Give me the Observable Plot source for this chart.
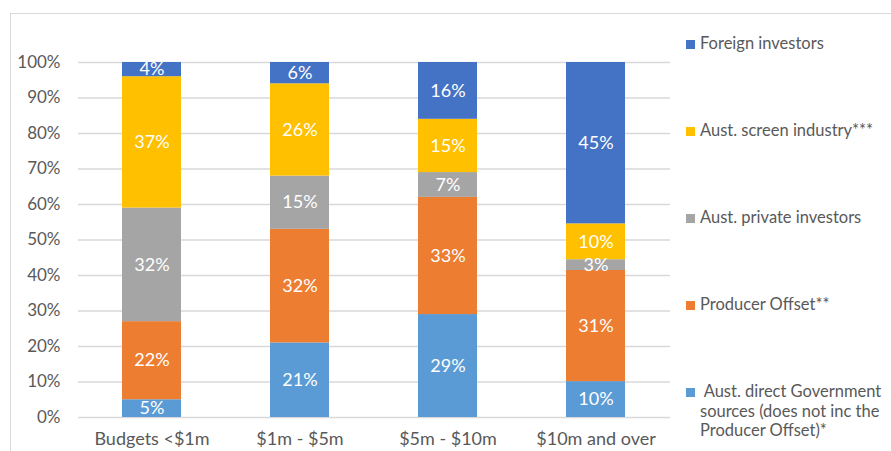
<!DOCTYPE html>
<html>
<head>
<meta charset="utf-8">
<script src="https://cdn.jsdelivr.net/npm/d3@7"></script>
<script src="https://cdn.jsdelivr.net/npm/@observablehq/plot@0.6"></script>
<style>
  html, body { margin: 0; padding: 0; background: #fff; }
  #wrap { position: relative; width: 891px; height: 451px; overflow: hidden; font-family: Lato, "Open Sans", sans-serif; }
  #frame { position: absolute; left: 10px; top: 13px; width: 900px; height: 460px; border: 1px solid #d9d9d9; box-sizing: border-box; }
  #chart { position: absolute; left: 0; top: 0; }
  .leg { position: absolute; left: 686px; color: #595959; font-size: 16.5px; line-height: 19.5px; }
  .leg .sw { position: absolute; left: 0; top: 6px; width: 9px; height: 9px; }
  .leg .lb { position: absolute; left: 14px; top: 0; white-space: nowrap; }
</style>
</head>
<body>
<div id="wrap">
  <div id="frame"></div>
  <div id="chart"></div>
  <div id="legend"></div>
</div>
<script>
const categories = ["Budgets <$1m", "$1m - $5m", "$5m - $10m", "$10m and over"];
const seriesNames = [
  "Aust. direct Government sources (does not inc the Producer Offset)*",
  "Producer Offset**",
  "Aust. private investors",
  "Aust. screen industry***",
  "Foreign investors"
];
const govtDirect = [5, 21, 29, 10];
const producerOffset = [22, 32, 33, 31];
const privateInvestors = [32, 15, 7, 3];
const screenIndustry = [37, 26, 15, 10];
const foreignInvestors = [4, 6, 16, 45];
const seriesColors = ["#5B9BD5", "#ED7D31", "#A5A5A5", "#FFC000", "#4472C4"];
const yTicks = [0, 0.1, 0.2, 0.3, 0.4, 0.5, 0.6, 0.7, 0.8, 0.9, 1];

const seriesValues = [govtDirect, producerOffset, privateInvestors, screenIndustry, foreignInvestors];
const data = [];
seriesNames.forEach((s, i) => {
  categories.forEach((c, j) => {
    data.push({category: c, series: s, value: seriesValues[i][j]});
  });
});

const stackOpts = {x: "category", y: "value", z: "series", order: seriesNames, offset: "normalize"};

const chart = Plot.plot({
  width: 891,
  height: 451,
  marginLeft: 78,
  marginRight: 221,
  marginTop: 62,
  marginBottom: 34,
  style: {fontFamily: "Lato, 'Open Sans', sans-serif", fontSize: "17px", color: "#595959", background: "transparent"},
  x: {domain: categories, paddingInner: 0.6, paddingOuter: 0.3, label: null, tickSize: 0, tickPadding: 15},
  y: {domain: [0, 1], ticks: yTicks, tickFormat: d => Math.round(d * 100) + "%", label: null, tickSize: 0, tickPadding: 18},
  color: {domain: seriesNames, range: seriesColors},
  marks: [
    Plot.ruleY(yTicks, {stroke: "#d9d9d9", strokeWidth: 1.5}),
    Plot.barY(data, Plot.stackY({...stackOpts, fill: "series"})),
    Plot.text(data, Plot.stackY({...stackOpts, text: d => d.value + "%", fill: "white", fontSize: 18}))
  ]
});
chart.querySelectorAll("[aria-label='x-axis tick label'] text").forEach(t => t.setAttribute("font-size", "18px"));
document.getElementById("chart").appendChild(chart);

// legend
const legendTops = [34, 121, 208, 295, 382];
const legend = document.getElementById("legend");
const legendOrder = [4, 3, 2, 1, 0];
legendOrder.forEach((si, k) => {
  const item = document.createElement("div");
  item.className = "leg";
  item.style.top = legendTops[k] + "px";
  const sw = document.createElement("div");
  sw.className = "sw";
  sw.style.background = seriesColors[si];
  const lb = document.createElement("div");
  lb.className = "lb";
  if (si === 0) {
    lb.innerHTML = "&nbsp;Aust. direct Government<br>sources (does not inc the<br>Producer Offset)*";
  } else {
    lb.textContent = seriesNames[si];
  }
  item.appendChild(sw);
  item.appendChild(lb);
  legend.appendChild(item);
});
</script>
</body>
</html>
